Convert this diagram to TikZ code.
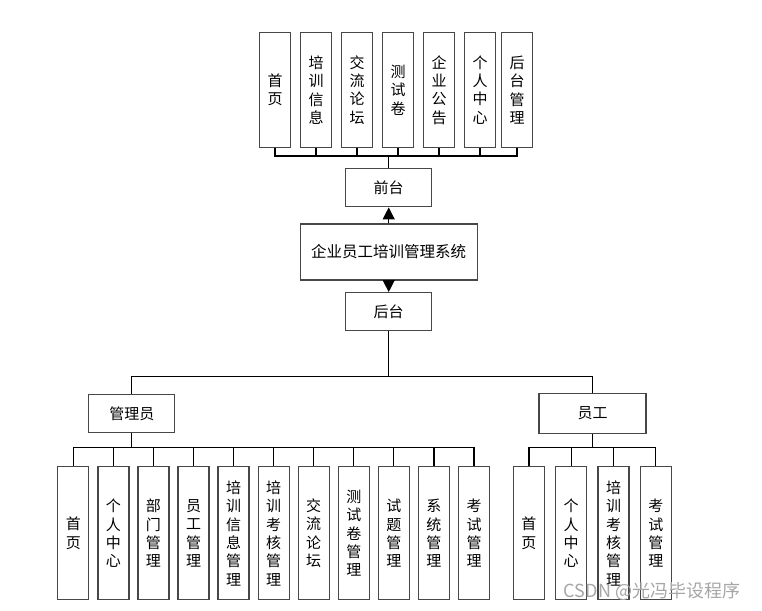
\documentclass[tikz,border=0pt]{standalone}
\usepackage{fontspec}
\setmainfont{Noto Sans CJK SC}
\usetikzlibrary{arrows.meta,positioning}
\tikzset{
    box/.style={draw=black!72, line width=1.3pt, fill=white, inner sep=0pt,
        align=center, font=\fontsize{15}{18.3}\selectfont},
    vbox/.style={box, minimum width=31pt, minimum height=133pt},
    topbox/.style={box, minimum width=30.5pt, minimum height=114.5pt},
    link/.style={draw=black, line width=1.2pt},
    arr/.style={link, -{Triangle[width=12pt,length=12pt]}}
}
\begin{document}
\begin{tikzpicture}[x=1pt,y=-1pt]
    \useasboundingbox (0,0) rectangle (762,610);
    % top level
    \node[box, minimum width=177pt, minimum height=56pt, font=\fontsize{15.5}{18}\selectfont] (sys) at (388.7,252) {企业员工培训管理系统};
    \node[box, minimum width=86pt, minimum height=38.5pt] (qt) at (388.7,187.5) {前台};
    \node[box, minimum width=86pt, minimum height=38pt] (ht) at (388.7,311.7) {后台};
    \draw[arr] (sys.north) -- (qt.south);
    \draw[arr] (sys.south) -- (ht.north);
    % front modules
    \foreach \x/\t [count=\i] in {275/{首\\页}, 316/{培\\训\\信\\息}, 357/{交\\流\\论\\坛},
        398/{测\\试\\卷}, 439/{企\\业\\公\\告}, 480/{个\\人\\中\\心}, 517/{后\\台\\管\\理}} {
        \node[topbox] (f\i) at (\x,90) {\t};
    }
    \coordinate (fbus) at (388.7,156);
    \foreach \i in {1,...,7} {
        \draw[link] (f\i.south) |- (fbus);
    }
    \draw[link] (fbus) -- (qt.north);
    % back end roles
    \node[box, minimum width=86pt, minimum height=38pt] (gly) at (131.8,413.8) {管理员};
    \node[box, minimum width=107pt, minimum height=40pt] (yg) at (592.5,413.3) {员工};
    \coordinate (hbus) at (388.7,376.5);
    \draw[link] (ht.south) -- (hbus);
    \draw[link] (hbus) -| (gly.north);
    \draw[link] (hbus) -| (yg.north);
    % admin modules
    \foreach \t [count=\i] in {{首\\页}, {个\\人\\中\\心}, {部\\门\\管\\理}, {员\\工\\管\\理},
        {培\\训\\信\\息\\管\\理}, {培\\训\\考\\核\\管\\理}, {交\\流\\论\\坛}, {测\\试\\卷\\管\\理},
        {试\\题\\管\\理}, {系\\统\\管\\理}, {考\\试\\管\\理}} {
        \node[vbox] (a\i) at ({33.25+40.07*\i},533.3) {\t};
    }
    \coordinate (abus) at (131.8,447.7);
    \draw[link] (gly.south) -- (abus);
    \foreach \i in {1,...,11} {
        \draw[link] (a\i.north) |- (abus);
    }
    % staff modules
    \foreach \t [count=\i] in {{首\\页}, {个\\人\\中\\心}, {培\\训\\考\\核\\管\\理}, {考\\试\\管\\理}} {
        \node[vbox] (e\i) at ({486.6+42.3*\i},533.3) {\t};
    }
    \coordinate (ebus) at (592.5,447.7);
    \draw[link] (yg.south) -- (ebus);
    \foreach \i in {1,...,4} {
        \draw[link] (e\i.north) |- (ebus);
    }
    \node[text=black!35, font=\fontsize{18}{20}\selectfont, inner sep=0pt] (wm) at (652,591) {CSDN @光冯毕设程序};
\end{tikzpicture}
\end{document}
